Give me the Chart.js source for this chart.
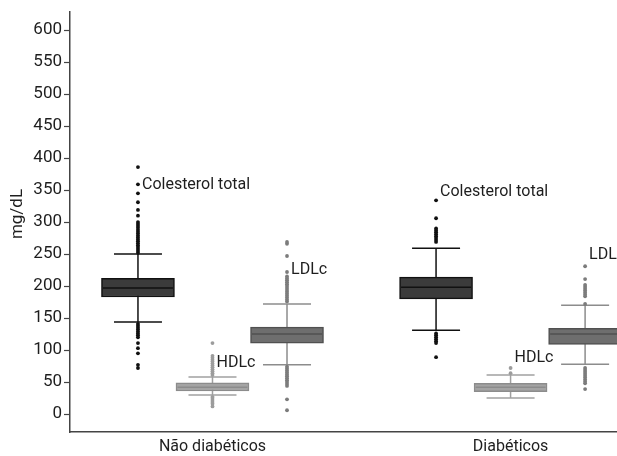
<!DOCTYPE html>
<html>
<head>
<meta charset="utf-8">
<script src="https://cdn.jsdelivr.net/npm/chart.js@4.4.1/dist/chart.umd.min.js"></script>
<style>
  html, body { margin: 0; padding: 0; background: #fff; }
  #wrap { width: 617px; height: 456px; }
</style>
</head>
<body>
<div id="wrap"><canvas id="chart" width="617" height="456"></canvas></div>
<script>
const groups = ['Não diabéticos', 'Diabéticos'];
const groupX = [1, 2];
const seriesNames = ['Colesterol total', 'HDLc', 'LDLc'];
const yTicks = [0, 50, 100, 150, 200, 250, 300, 350, 400, 450, 500, 550, 600];

// box stats, one value per group
const cholQ1 = [183, 180];
const cholMedian = [197, 198];
const cholQ3 = [212, 214];
const cholLow = [144, 131];
const cholHigh = [250, 259];
const cholOutliers = [
  [252, 255, 258, 261, 264, 267, 270, 273, 276, 279, 282, 285, 288, 291, 294, 297, 300, 310, 319, 331, 345, 359, 386,
   141, 138, 135, 132, 129, 126, 123, 120, 111, 103, 95, 77, 72],
  [269, 272, 275, 278, 281, 284, 287, 290, 306, 334, 126, 123, 120, 117, 114, 111, 89],
];
const cholLabelY = [358, 347];

const hdlQ1 = [36, 35];
const hdlMedian = [42, 42];
const hdlQ3 = [49, 48];
const hdlLow = [30, 25];
const hdlHigh = [58, 61];
const hdlOutliers = [
  [61, 64, 67, 70, 73, 76, 79, 82, 85, 88, 91, 111, 27, 25, 22, 19, 16, 12],
  [64, 72],
];
const hdlLabelY = [80, 87];

const ldlQ1 = [111, 109];
const ldlMedian = [125, 125];
const ldlQ3 = [136, 134];
const ldlLow = [77, 78];
const ldlHigh = [172, 170];
const ldlOutliers = [
  [176, 179, 182, 185, 188, 191, 194, 197, 200, 203, 206, 209, 212, 215, 222, 247, 266, 269,
   74, 71, 68, 65, 62, 59, 56, 53, 50, 47, 44, 23, 6],
  [172, 184, 187, 190, 193, 196, 199, 202, 211, 231, 72, 69, 66, 63, 60, 57, 54, 51, 48, 39],
];
const ldlLabelY = [225, 248];

const DODGE = [-0.25, 0, 0.25];
const FONT = 'Roboto, "Liberation Sans", sans-serif';
const TEXT_COLOR = '#1e1e1e';
const STYLES = [
  { fill: '#3b3b3b', border: '#111', whisker: '#111', dot: '#111' },
  { fill: '#a4a4a4', border: '#8c8c8c', whisker: '#a0a0a0', dot: '#9c9c9c' },
  { fill: '#6e6e6e', border: '#505050', whisker: '#8c8c8c', dot: '#7c7c7c' },
];

const seriesStats = [
  { q1: cholQ1, med: cholMedian, q3: cholQ3, lo: cholLow, hi: cholHigh, out: cholOutliers, labelY: cholLabelY },
  { q1: hdlQ1, med: hdlMedian, q3: hdlQ3, lo: hdlLow, hi: hdlHigh, out: hdlOutliers, labelY: hdlLabelY },
  { q1: ldlQ1, med: ldlMedian, q3: ldlQ3, lo: ldlLow, hi: ldlHigh, out: ldlOutliers, labelY: ldlLabelY },
];

function buildDatasets() {
  const datasets = [];
  seriesStats.forEach((s, si) => {
    const st = STYLES[si];
    const xs = groupX.map((g) => g + DODGE[si]);
    // whisker stems
    xs.forEach((x, gi) => {
      datasets.push({
        type: 'line', order: 4, data: [{ x, y: s.lo[gi] }, { x, y: s.hi[gi] }],
        borderColor: st.whisker, borderWidth: 1.5, pointRadius: 0,
      });
    });
    // outliers
    datasets.push({
      type: 'scatter', order: 3,
      data: xs.flatMap((x, gi) => s.out[gi].map((y) => ({ x, y }))),
      pointRadius: 1.9, pointBorderWidth: 0, backgroundColor: st.dot,
    });
    // caps
    datasets.push({
      type: 'scatter', order: 3,
      data: xs.flatMap((x, gi) => [{ x, y: s.lo[gi] }, { x, y: s.hi[gi] }]),
      pointStyle: 'line', pointRadius: 24, pointBorderWidth: 1.5, borderColor: st.whisker,
    });
    // boxes
    datasets.push({
      type: 'bar', order: 2, grouped: false,
      data: xs.map((x, gi) => ({ x, y: [s.q1[gi], s.q3[gi]] })),
      backgroundColor: st.fill, borderColor: st.border, borderWidth: 1.5,
      borderSkipped: false, barThickness: 73,
    });
    // medians
    datasets.push({
      type: 'scatter', order: 1,
      data: xs.map((x, gi) => ({ x, y: s.med[gi] })),
      pointStyle: 'line', pointRadius: 35, pointBorderWidth: 1.5, borderColor: st.border,
    });
  });
  return datasets;
}

const annotations = {
  id: 'annotations',
  afterDatasetsDraw(chart) {
    const { ctx, scales: { x, y } } = chart;
    ctx.save();
    ctx.fillStyle = TEXT_COLOR;
    ctx.font = '16px ' + FONT;
    ctx.textAlign = 'left';
    ctx.textBaseline = 'middle';
    seriesStats.forEach((s, si) => {
      groupX.forEach((g, gi) => {
        ctx.fillText(seriesNames[si], x.getPixelForValue(g + DODGE[si]) + 4, y.getPixelForValue(s.labelY[gi]));
      });
    });
    ctx.font = '17px ' + FONT;
    ctx.translate(18, 214);
    ctx.rotate(-Math.PI / 2);
    ctx.textAlign = 'center';
    ctx.fillText('mg/dL', 0, 0);
    ctx.restore();
  },
};

new Chart(document.getElementById('chart'), {
  type: 'bar',
  data: { datasets: buildDatasets() },
  options: {
    responsive: false,
    animation: false,
    events: [],
    layout: { autoPadding: false, padding: { top: 12, left: 0, right: 0, bottom: 0 } },
    plugins: { legend: { display: false }, tooltip: { enabled: false } },
    scales: {
      x: {
        type: 'linear', min: 0.522, max: 2.357, offset: false,
        afterBuildTicks: (scale) => { scale.ticks = groupX.map((v) => ({ value: v })); },
        afterFit: (scale) => { scale.height = 24; },
        ticks: {
          autoSkip: false, maxRotation: 0, padding: 5, color: TEXT_COLOR,
          font: { family: FONT, size: 16 },
          callback: (v) => groups[groupX.indexOf(v)] || '',
        },
        grid: { display: true, drawOnChartArea: false, drawTicks: false },
        border: { display: true, color: '#444', width: 1.5 },
      },
      y: {
        type: 'linear', min: -28, max: 628,
        afterBuildTicks: (scale) => { scale.ticks = yTicks.map((v) => ({ value: v })); },
        afterFit: (scale) => { scale.width = 70; },
        ticks: { padding: 2, color: TEXT_COLOR, font: { family: FONT, size: 17 } },
        grid: { display: true, drawOnChartArea: false, drawTicks: true, tickLength: 6, tickColor: '#444', tickWidth: 1.2 },
        border: { display: true, color: '#444', width: 1.5 },
      },
    },
  },
  plugins: [annotations],
});
</script>
</body>
</html>
